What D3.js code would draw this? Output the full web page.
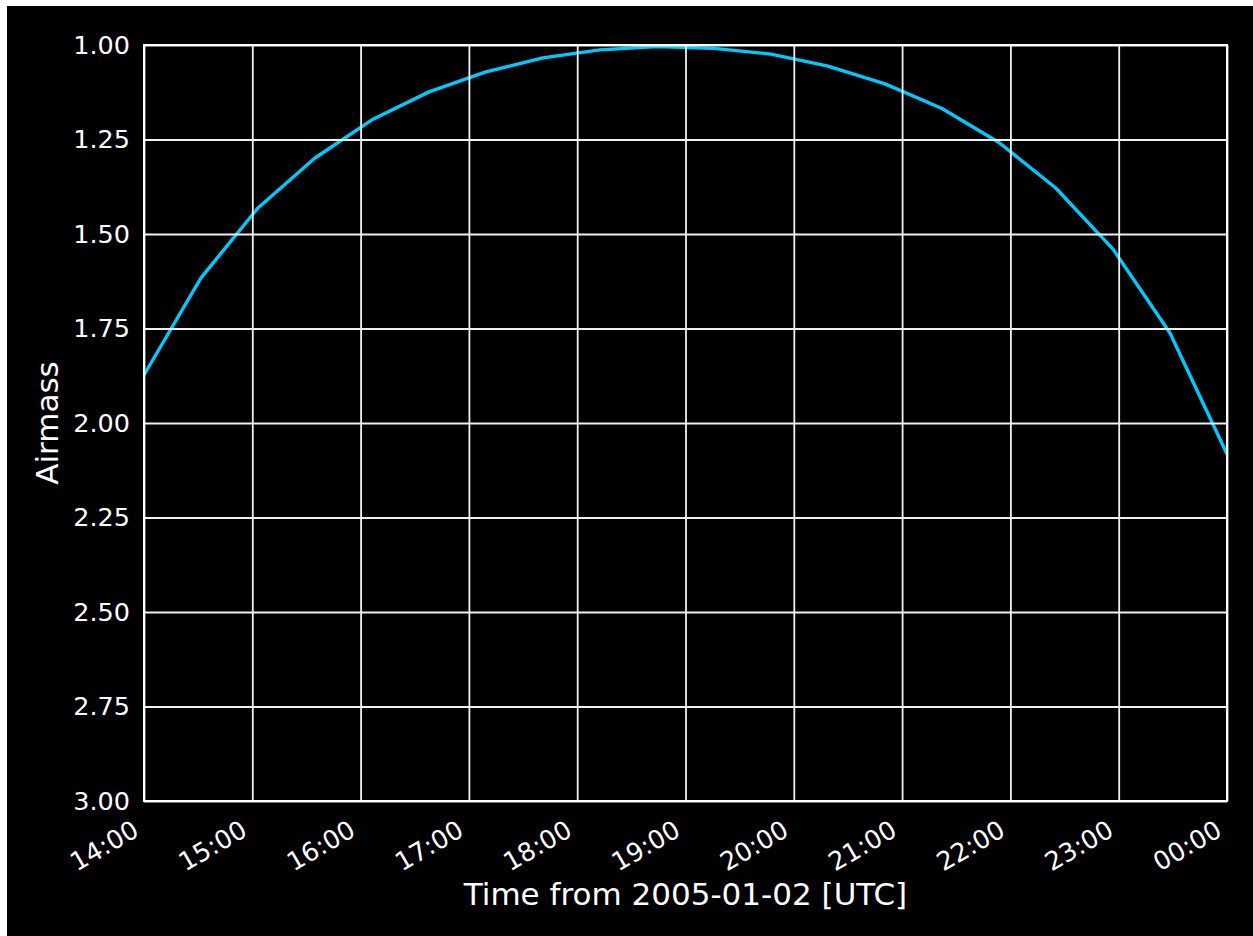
<!DOCTYPE html>
<html>
<head>
<meta charset="utf-8">
<script src="https://cdn.jsdelivr.net/npm/d3@7"></script>
<style>
  html, body { margin: 0; padding: 0; background: #ffffff; }
  svg { display: block; }
  text { font-family: "DejaVu Sans", sans-serif; fill: #ffffff; }
</style>
</head>
<body>
<svg id="chart" width="1253" height="936"></svg>
<script>
// Observation times (UTC) and the target's airmass at each time
const times = [
  "2005-01-02T14:00:00Z", "2005-01-02T14:31:35Z", "2005-01-02T15:03:09Z", "2005-01-02T15:34:44Z",
  "2005-01-02T16:06:19Z", "2005-01-02T16:37:54Z", "2005-01-02T17:09:28Z", "2005-01-02T17:41:03Z",
  "2005-01-02T18:12:38Z", "2005-01-02T18:44:13Z", "2005-01-02T19:15:47Z", "2005-01-02T19:47:22Z",
  "2005-01-02T20:18:57Z", "2005-01-02T20:50:32Z", "2005-01-02T21:22:06Z", "2005-01-02T21:53:41Z",
  "2005-01-02T22:25:16Z", "2005-01-02T22:56:51Z", "2005-01-02T23:28:25Z", "2005-01-03T00:00:00Z"
];
const airmass = [
  1.873, 1.616, 1.431, 1.299, 1.198, 1.124, 1.071, 1.034, 1.013, 1.004,
  1.009, 1.024, 1.056, 1.103, 1.168, 1.258, 1.379, 1.540, 1.762, 2.082
];
const timeDomain = ["2005-01-02T14:00:00Z", "2005-01-03T00:00:00Z"];
const yTicks = [1.00, 1.25, 1.50, 1.75, 2.00, 2.25, 2.50, 2.75, 3.00];
const xLabel = "Time from 2005-01-02 [UTC]";
const yLabel = "Airmass";

const svg = d3.select("#chart");
const W = 1253, H = 936;
const plot = { left: 144, top: 45, right: 1227, bottom: 801 };

// figure background
svg.append("rect").attr("x", 7).attr("y", 6).attr("width", W - 7).attr("height", H - 6).attr("fill", "#000000");

const x = d3.scaleUtc()
  .domain(timeDomain.map(d => new Date(d)))
  .range([plot.left, plot.right]);
const y = d3.scaleLinear()
  .domain([1, 3])
  .range([plot.top, plot.bottom]);

const data = times.map((t, i) => ({ t: new Date(t), v: airmass[i] }));

// airmass curve
svg.append("path")
  .datum(data)
  .attr("fill", "none")
  .attr("stroke", "#00c8ff")
  .attr("stroke-width", 3.4)
  .attr("stroke-linejoin", "round")
  .attr("d", d3.line().x(d => x(d.t)).y(d => y(d.v)));

const hourTicks = x.ticks(d3.utcHour.every(1));
const fmt = d3.utcFormat("%H:%M");

// x axis with full-height grid lines
const xAxis = svg.append("g")
  .attr("transform", `translate(0,${plot.bottom})`)
  .call(d3.axisBottom(x).tickValues(hourTicks).tickFormat(fmt)
    .tickSize(-(plot.bottom - plot.top)).tickPadding(0));
xAxis.select(".domain").remove();
xAxis.selectAll(".tick line").attr("stroke", "#f0f0f0").attr("stroke-width", 1.8);
xAxis.selectAll(".tick text")
  .attr("font-size", 25.5)
  .attr("text-anchor", "end")
  .attr("dy", null)
  .attr("y", null)
  .attr("transform", "translate(-4,34) rotate(-30)");

// y axis with full-width grid lines
const yAxis = svg.append("g")
  .attr("transform", `translate(${plot.left},0)`)
  .call(d3.axisLeft(y).tickValues(yTicks).tickFormat(d3.format(".2f"))
    .tickSize(-(plot.right - plot.left)).tickPadding(14));
yAxis.select(".domain").remove();
yAxis.selectAll(".tick line").attr("stroke", "#f0f0f0").attr("stroke-width", 1.8);
yAxis.selectAll(".tick text").attr("font-size", 25.5);

// plot frame
svg.append("rect")
  .attr("x", plot.left).attr("y", plot.top)
  .attr("width", plot.right - plot.left).attr("height", plot.bottom - plot.top)
  .attr("fill", "none").attr("stroke", "#ffffff").attr("stroke-width", 2);

// axis titles
svg.append("text")
  .attr("x", (plot.left + plot.right) / 2).attr("y", 905)
  .attr("text-anchor", "middle").attr("font-size", 31)
  .text(xLabel);
svg.append("text")
  .attr("transform", `translate(58,${(plot.top + plot.bottom) / 2}) rotate(-90)`)
  .attr("text-anchor", "middle").attr("font-size", 31)
  .text(yLabel);
</script>
</body>
</html>
